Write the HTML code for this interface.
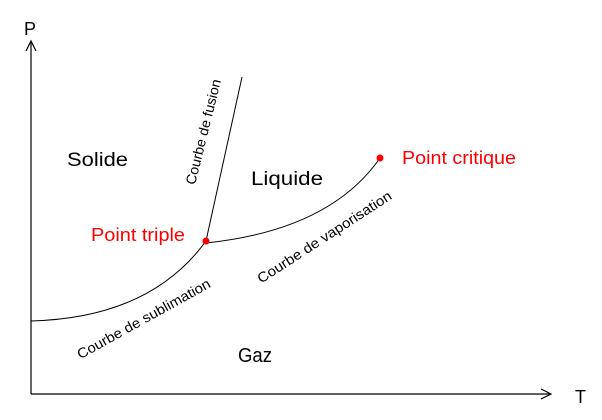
<!DOCTYPE html>
<html><head><style>body{margin:0;background:#fff}svg{display:block}text{font-family:"Liberation Sans",sans-serif}</style></head><body>
<svg width="602" height="420" viewBox="0 0 602 420" xmlns="http://www.w3.org/2000/svg">
<g stroke="#000" fill="none" stroke-width="1.2">
<line x1="31" y1="394" x2="31" y2="41"/>
<polyline points="26,51 31,41 36,51"/>
<line x1="31" y1="394" x2="551" y2="394"/>
<polyline points="541,389 551,394 541,399"/>
<line x1="206" y1="241" x2="242" y2="77" stroke-width="1"/>
<path d="M31,321 Q150,318 206,241" stroke-width="1"/>
<path d="M206,243 Q330,230 380,158" stroke-width="1"/>
</g>
<circle cx="206" cy="241" r="3.5" fill="#f00"/>
<circle cx="380" cy="158" r="3.5" fill="#f00"/>
<text x="24" y="35" font-size="18">P</text>
<text x="575" y="403" font-size="18">T</text>
<text x="67" y="166" font-size="19" textLength="61" lengthAdjust="spacingAndGlyphs">Solide</text>
<text x="251" y="185" font-size="19" textLength="72" lengthAdjust="spacingAndGlyphs">Liquide</text>
<text x="238" y="362" font-size="20" textLength="34" lengthAdjust="spacingAndGlyphs">Gaz</text>
<text x="91" y="241" font-size="18" fill="#f00" textLength="94" lengthAdjust="spacingAndGlyphs">Point triple</text>
<text x="402" y="164" font-size="18" fill="#f00" textLength="114" lengthAdjust="spacingAndGlyphs">Point critique</text>
<text font-size="14" text-anchor="middle" transform="translate(208,133) rotate(-76)" textLength="108" lengthAdjust="spacingAndGlyphs">Courbe de fusion</text>
<text font-size="14" text-anchor="middle" transform="translate(146,323) rotate(-29)" textLength="150" lengthAdjust="spacingAndGlyphs">Courbe de sublimation</text>
<text font-size="14" text-anchor="middle" transform="translate(327,241) rotate(-33)" textLength="157" lengthAdjust="spacingAndGlyphs">Courbe de vaporisation</text>
</svg>
</body></html>
